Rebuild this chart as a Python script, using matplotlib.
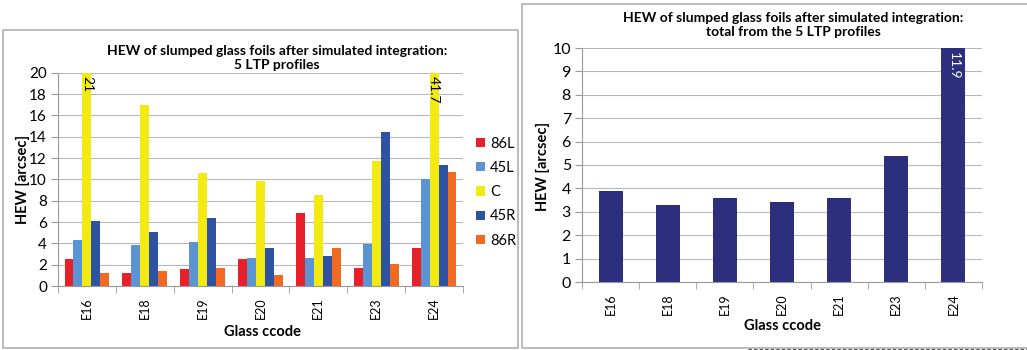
import numpy as np
import matplotlib
matplotlib.use("Agg")
import matplotlib.pyplot as plt
from matplotlib.patches import Rectangle
from matplotlib.lines import Line2D

plt.rcParams['font.family'] = ['Lato', 'DejaVu Sans']

glass = ["E16", "E18", "E19", "E20", "E21", "E23", "E24"]
series_names = ["86L", "45L", "C", "45R", "86R"]
v_86L = [2.5, 1.2, 1.6, 2.5, 6.8, 1.7, 3.6]
v_45L = [4.3, 3.8, 4.1, 2.6, 2.6, 3.9, 10.0]
v_C = [21.0, 17.0, 10.6, 9.8, 8.5, 11.7, 41.7]
v_45R = [6.1, 5.1, 6.4, 3.6, 2.8, 14.4, 11.3]
v_86R = [1.2, 1.4, 1.7, 1.0, 3.6, 2.1, 10.7]
total = [3.9, 3.3, 3.6, 3.4, 3.6, 5.4, 11.9]

colors = ["#e8202a", "#5b94d2", "#f2ea10", "#2f53a3", "#f26a22"]
navy = "#2b2f7e"
grid_c = "#b8b8b8"

W, H = 1027, 350
fig = plt.figure(figsize=(W / 100, H / 100), dpi=100)

def fx(px):
    return px / W

def fy(py):
    return 1 - py / H

# panel frames
fig.patches.append(Rectangle((fx(3), fy(348)), fx(515), 318 / H, transform=fig.transFigure,
                             fill=False, edgecolor="#b0b0b0", linewidth=1.2))
fig.patches.append(Rectangle((fx(522), fy(348)), fx(510), 344 / H, transform=fig.transFigure,
                             fill=False, edgecolor="#b0b0b0", linewidth=1.2))
fig.lines.append(Line2D([fx(748), fx(1027)], [fy(348.5), fy(348.5)], transform=fig.transFigure,
                        color="#555555", linestyle=(0, (3, 2)), linewidth=0.8))


def style_axes(ax, n):
    ax.set_xlim(-0.5, n - 0.5)
    for s in ["top", "right"]:
        ax.spines[s].set_visible(False)
    for s in ["left", "bottom"]:
        ax.spines[s].set_color("#999999")
        ax.spines[s].set_linewidth(0.8)
    ax.yaxis.grid(True, color=grid_c, linewidth=0.8)
    ax.set_axisbelow(True)
    ax.set_xticks(np.arange(n))
    ax.set_xticklabels(glass, rotation=90)
    ax.set_xticks(np.arange(n + 1) - 0.5, minor=True)
    ax.tick_params(axis="x", which="major", length=0, pad=8)
    ax.tick_params(axis="x", which="minor", length=5, color="#999999", direction="out")
    ax.tick_params(axis="y", length=5, color="#999999", direction="out", pad=3)


# ---- left chart
ax1 = fig.add_axes([fx(58), fy(286), fx(463 - 58), (286 - 72.7) / H])
x = np.arange(len(glass))
bw = 0.155
all_vals = [v_86L, v_45L, v_C, v_45R, v_86R]
for i, (name, vals) in enumerate(zip(series_names, all_vals)):
    ax1.bar(x + (i - 2) * bw, vals, width=bw, color=colors[i], label=name)
ax1.set_ylim(0, 20)
ax1.set_yticks(np.arange(0, 21, 2))
style_axes(ax1, len(glass))
ax1.tick_params(axis="y", labelsize=11)
ax1.tick_params(axis="x", labelsize=9)
for xi, v in zip(x, v_C):
    if v > 20:
        ax1.text(xi, 19.7, f"{v:g}", rotation=270, ha="center", va="top", fontsize=10)
fig.text(fx(23), fy(179), "HEW [arcsec]", rotation=90, ha="center", va="center",
         fontsize=10.5, fontweight="bold")
fig.text(fx(262), fy(331.5), "Glass ccode", ha="center", va="center",
         fontsize=10.5, fontweight="bold")
fig.text(fx(277), fy(58), "HEW of slumped glass foils after simulated integration:\n5 LTP profiles",
         ha="center", va="center", fontsize=10, fontweight="bold", linespacing=1.2)
leg = ax1.legend(loc="center left", bbox_to_anchor=(1.0, 0.44), frameon=False, fontsize=10.5,
                 handlelength=0.6, handleheight=0.6, handletextpad=0.35, labelspacing=0.7,
                 borderaxespad=0.5)

# ---- right chart
ax2 = fig.add_axes([fx(582), fy(282), fx(982 - 582), (282 - 48) / H])
ax2.bar(x, total, width=0.42, color=navy)
ax2.set_ylim(0, 10)
ax2.set_yticks(np.arange(0, 11, 1))
style_axes(ax2, len(glass))
ax2.tick_params(axis="y", labelsize=11.5)
ax2.tick_params(axis="x", labelsize=9, pad=8)
for xi, v in zip(x, total):
    if v > 10:
        ax2.text(xi, 9.85, f"{v:g}", rotation=270, ha="center", va="top", fontsize=10,
                 color="white")
fig.text(fx(543), fy(166), "HEW [arcsec]", rotation=90, ha="center", va="center",
         fontsize=10.5, fontweight="bold")
fig.text(fx(782), fy(326.5), "Glass ccode", ha="center", va="center",
         fontsize=10.5, fontweight="bold")
fig.text(fx(793), fy(25.5), "HEW of slumped glass foils after simulated integration:\ntotal from the 5 LTP profiles",
         ha="center", va="center", fontsize=10, fontweight="bold", linespacing=1.2)

fig.savefig("out.png", dpi=100)
